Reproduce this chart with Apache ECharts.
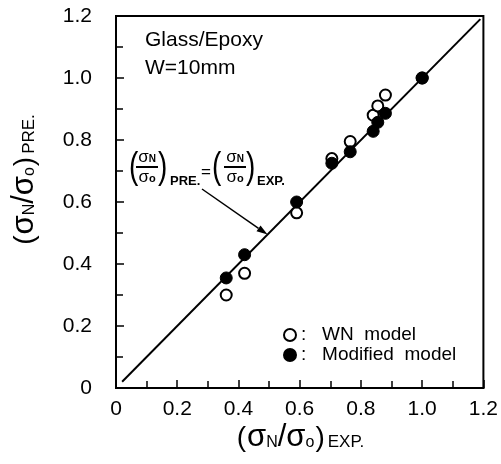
<!DOCTYPE html>
<html>
<head>
<meta charset="utf-8">
<script src="https://cdn.jsdelivr.net/npm/echarts@6/dist/echarts.min.js"></script>
<style>
  html, body { margin: 0; padding: 0; background: #fff; }
  #main { width: 501px; height: 464px; }
</style>
</head>
<body>
<div id="main"></div>
<script>
// (sigma_N/sigma_o) experimental vs predicted, Glass/Epoxy W=10mm
const wnExp = [0.36, 0.42, 0.59, 0.705, 0.765, 0.84, 0.855, 0.88, 1.0]
const wnPre = [0.30, 0.37, 0.565, 0.74, 0.795, 0.88, 0.91, 0.945, 1.0]
const modExp = [0.36, 0.42, 0.59, 0.705, 0.765, 0.84, 0.855, 0.88, 1.0]
const modPre = [0.355, 0.43, 0.60, 0.725, 0.762, 0.828, 0.857, 0.886, 1.0]
// ends of the PRE. = EXP. line
const diagEnds = [0.02, 1.19]
const tickLabels = ['0', '0.2', '0.4', '0.6', '0.8', '1.0', '1.2']
const seriesNames = ['WN model', 'Modified model']

const FONT = 'Liberation Sans'
const chart = echarts.init(document.getElementById('main'))

const pair = (xs, ys) => xs.map((x, i) => [x, ys[i]])
const tickFmt = v => tickLabels[Math.round(v / 0.2)]

// axis look, shared by x and y
function axis(margin) {
  return {
    type: 'value',
    min: 0,
    max: 1.2,
    interval: 0.2,
    axisLine: { show: true, lineStyle: { color: '#000', width: 2 } },
    axisTick: { inside: true, length: 8, lineStyle: { color: '#000', width: 1.5 } },
    minorTick: { show: true, splitNumber: 2, length: 7, lineStyle: { color: '#000', width: 1.5 } },
    splitLine: { show: false },
    axisLabel: { color: '#000', fontSize: 21, fontFamily: FONT, formatter: tickFmt, margin: margin }
  }
}

// rich styles for the (sigma_N / sigma_o)_SUB titles
const titleRich = {
  p: { fontSize: 28, fontFamily: FONT, verticalAlign: 'bottom', padding: [0, 1, 0, 1] },
  s: { fontSize: 31, fontFamily: FONT, verticalAlign: 'bottom' },
  n: { fontSize: 16, fontFamily: FONT, verticalAlign: 'bottom', padding: [0, 0, 2, 0] },
  t: { fontSize: 17, fontFamily: FONT, verticalAlign: 'bottom', padding: [0, 0, 2, 2] }
}
const titleText = sub => '{p|(}{s|σ}{n|N}{s|/σ}{n|o}{p|)}{t|' + sub + '}'

// small stacked fraction sigma_N over sigma_o, centred at cx, bar at y
function frac(cx, y) {
  return [
    { type: 'text', x: cx, y: y - 1, style: { text: '{s|σ}{n|N}', align: 'center', verticalAlign: 'bottom',
      rich: { s: { fontSize: 17, fontFamily: FONT }, n: { fontSize: 10, fontFamily: FONT, fontWeight: 'bold', padding: [3, 0, 0, 0] } } } },
    { type: 'line', shape: { x1: cx - 11, y1: y, x2: cx + 11, y2: y }, style: { stroke: '#000', lineWidth: 2 } },
    { type: 'text', x: cx, y: y + 2, style: { text: '{s|σ}{n|o}', align: 'center', verticalAlign: 'top',
      rich: { s: { fontSize: 17, fontFamily: FONT }, n: { fontSize: 11, fontFamily: FONT, fontWeight: 'bold', padding: [3, 0, 0, 0] } } } }
  ]
}
function paren(ch, x, y) {
  return { type: 'text', x: x, y: y, scaleY: 1.3, originY: 0,
    style: { text: ch, fontSize: 28, fontFamily: FONT, align: 'left', verticalAlign: 'middle', fill: '#000' } }
}

chart.setOption({
  backgroundColor: '#fff',
  animation: false,
  textStyle: { fontFamily: FONT },
  grid: { left: 116, top: 16, width: 372, height: 372, show: true, borderColor: '#000', borderWidth: 2 },
  xAxis: axis(11),
  yAxis: axis(24),
  legend: {
    data: seriesNames,
    orient: 'vertical',
    left: 278,
    top: 320,
    itemWidth: 12,
    itemHeight: 12,
    itemGap: 0,
    selectedMode: false,
    formatter: n => ':   ' + n.replace(' ', '  '),
    textStyle: { color: '#000', fontSize: 19, fontFamily: FONT, lineHeight: 20 }
  },
  series: [
    {
      type: 'line',
      data: pair(diagEnds, diagEnds),
      symbol: 'none',
      silent: true,
      lineStyle: { color: '#000', width: 2 },
      z: 1
    },
    {
      name: seriesNames[0],
      type: 'scatter',
      data: pair(wnExp, wnPre),
      symbol: 'circle',
      symbolSize: 11,
      itemStyle: { color: '#fff', borderColor: '#000', borderWidth: 2, opacity: 1 },
      z: 2
    },
    {
      name: seriesNames[1],
      type: 'scatter',
      data: pair(modExp, modPre),
      symbol: 'circle',
      symbolSize: 12,
      itemStyle: { color: '#000', borderColor: '#000', borderWidth: 1, opacity: 1 },
      z: 3
    }
  ]
})

// arrow tip lands on the diagonal
const tip = chart.convertToPixel({ gridIndex: 0 }, [0.495, 0.495])
const tail = [202, 189]
const dx = tip[0] - tail[0], dy = tip[1] - tail[1]
const len = Math.sqrt(dx * dx + dy * dy)
const ux = dx / len, uy = dy / len
const hl = 11, hw = 3.5
const bx = tip[0] - ux * hl, by = tip[1] - uy * hl

chart.setOption({
  graphic: [
    { type: 'text', left: 145, top: 30, style: { text: 'Glass/Epoxy', fontSize: 21, fontFamily: FONT, fill: '#000' } },
    { type: 'text', left: 145, top: 58, style: { text: 'W=10mm', fontSize: 21, fontFamily: FONT, fill: '#000' } },
    // axis titles
    { type: 'text', x: 300, y: 437, style: { text: titleText('EXP.'), align: 'center', verticalAlign: 'middle', fill: '#000', rich: titleRich } },
    { type: 'text', x: 24, y: 180, rotation: Math.PI / 2, style: { text: titleText('PRE.'), align: 'center', verticalAlign: 'middle', fill: '#000', rich: titleRich } },
    // (sN/so)PRE. = (sN/so)EXP. label
    { type: 'group', children: [
      paren('(', 129, 168),
      ...frac(147, 167),
      paren(')', 158, 168),
      { type: 'text', x: 170, y: 181, style: { text: 'PRE.', fontSize: 13, fontWeight: 'bold', fontFamily: FONT, verticalAlign: 'middle', fill: '#000' } },
      { type: 'text', x: 201, y: 172, style: { text: '=', fontSize: 17, fontFamily: FONT, verticalAlign: 'middle', fill: '#000' } },
      paren('(', 212, 168),
      ...frac(235, 167),
      paren(')', 246, 168),
      { type: 'text', x: 257, y: 181, style: { text: 'EXP.', fontSize: 13, fontWeight: 'bold', fontFamily: FONT, verticalAlign: 'middle', fill: '#000' } }
    ] },
    // arrow
    { type: 'line', shape: { x1: tail[0], y1: tail[1], x2: bx, y2: by }, style: { stroke: '#000', lineWidth: 1.5 } },
    { type: 'polygon', shape: { points: [tip, [bx - uy * hw, by + ux * hw], [bx + uy * hw, by - ux * hw]] }, style: { fill: '#000' } }
  ]
})
</script>
</body>
</html>
